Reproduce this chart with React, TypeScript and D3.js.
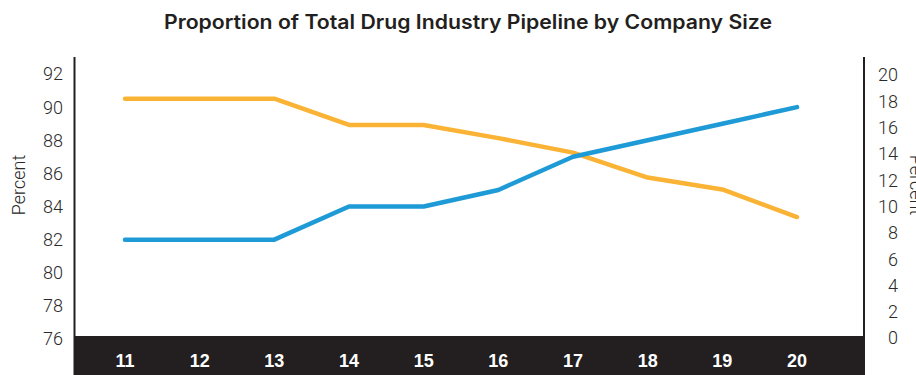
import React from "react";
import * as d3 from "d3";

const years = [11, 12, 13, 14, 15, 16, 17, 18, 19, 20];
const blueSeries = [82, 82, 82, 84, 84, 85, 87, 88, 89, 90]; // left axis
const orangeSeries = [18.2, 18.2, 18.2, 16.2, 16.2, 15.2, 14.1, 12.2, 11.3, 9.2]; // right axis
const leftTicks = [76, 78, 80, 82, 84, 86, 88, 90, 92];
const rightTicks = [0, 2, 4, 6, 8, 10, 12, 14, 16, 18, 20];
const title = "Proportion of Total Drug Industry Pipeline by Company Size";
const leftLabel = "Percent";
const rightLabel = "Percent";

const W = 916;
const H = 375;

export default function App() {
  const x = d3.scaleLinear().domain([11, 20]).range([125, 797]);
  const yL = d3.scaleLinear().domain([76, 92]).range([339, 74]);
  const yR = d3.scaleLinear().domain([0, 20]).range([338, 75]);

  const lineL = d3
    .line<number>()
    .x((_, i) => x(years[i]))
    .y((d) => yL(d));
  const lineR = d3
    .line<number>()
    .x((_, i) => x(years[i]))
    .y((d) => yR(d));

  const tickFont = "Roboto, 'Liberation Sans', Arial, sans-serif";
  const bandTop = 336;

  return (
    <svg
      width={W}
      height={H}
      style={{ position: "absolute", left: 0, top: 0, background: "#fff" }}
    >
      <text
        x={468}
        y={29}
        textAnchor="middle"
        fontFamily="Inter, 'Liberation Sans', Arial, sans-serif"
        fontWeight={600}
        fontSize={19.5}
        textLength={608}
        lengthAdjust="spacingAndGlyphs"
        fill="#231f20"
      >
        {title}
      </text>

      {/* bottom band */}
      <rect x={75} y={bandTop} width={790} height={H - bandTop} fill="#231f20" />

      {/* axis lines */}
      <line x1={74.5} x2={74.5} y1={57} y2={H} stroke="#231f20" strokeWidth={2} />
      <line x1={864} x2={864} y1={57} y2={bandTop} stroke="#231f20" strokeWidth={2} />

      {/* left ticks */}
      {leftTicks.map((t) => (
        <text
          key={"l" + t}
          x={63}
          y={yL(t)}
          dy="0.36em"
          textAnchor="end"
          fontFamily={tickFont}
          fontWeight={300}
          fontSize={18}
          fill="#2a2a2a"
        >
          {t}
        </text>
      ))}
      {/* right ticks */}
      {rightTicks.map((t) => (
        <text
          key={"r" + t}
          x={898}
          y={yR(t)}
          dy="0.36em"
          textAnchor="end"
          fontFamily={tickFont}
          fontWeight={300}
          fontSize={18}
          fill="#2a2a2a"
        >
          {t}
        </text>
      ))}

      <text
        transform={`translate(25,185) rotate(-90)`}
        textAnchor="middle"
        fontFamily={tickFont}
        fontWeight={300}
        fontSize={18}
        fill="#2a2a2a"
      >
        {leftLabel}
      </text>
      <text
        transform={`translate(910,185) rotate(90)`}
        textAnchor="middle"
        fontFamily={tickFont}
        fontWeight={300}
        fontSize={18}
        fill="#2a2a2a"
      >
        {rightLabel}
      </text>

      {/* x labels */}
      {years.map((yv) => (
        <text
          key={"x" + yv}
          x={x(yv)}
          y={367}
          textAnchor="middle"
          fontFamily="'Liberation Sans', Arial, sans-serif"
          fontWeight="bold"
          fontSize={18}
          fill="#fff"
        >
          {yv}
        </text>
      ))}

      <path
        d={lineR(orangeSeries) || ""}
        fill="none"
        stroke="#fbb336"
        strokeWidth={4.5}
        strokeLinecap="round"
        strokeLinejoin="round"
      />
      <path
        d={lineL(blueSeries) || ""}
        fill="none"
        stroke="#1e9ad6"
        strokeWidth={4.5}
        strokeLinecap="round"
        strokeLinejoin="round"
      />
    </svg>
  );
}
